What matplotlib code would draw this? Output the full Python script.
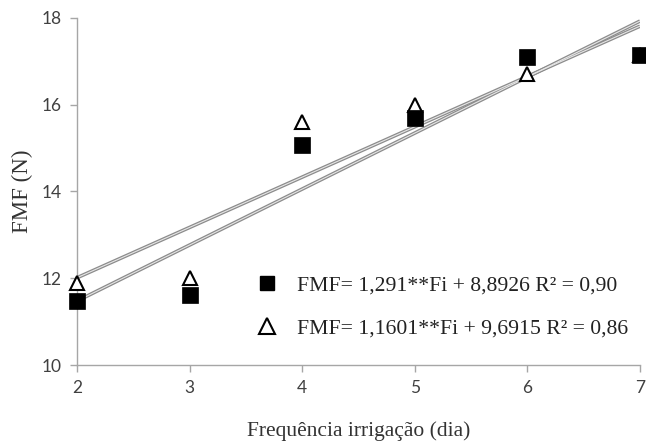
import matplotlib
matplotlib.use("Agg")
import matplotlib.pyplot as plt
import numpy as np
from matplotlib.lines import Line2D

# Data
freq = [2, 3, 4, 5, 6, 7]
fmf_square = [11.48, 11.62, 15.07, 15.70, 17.10, 17.15]
fmf_triangle = [11.90, 12.00, 15.60, 16.00, 16.70, 17.15]
fit_square = (1.291, 8.8926)
fit_triangle = (1.1601, 9.6915)
label_square = "FMF= 1,291**Fi + 8,8926 R² = 0,90"
label_triangle = "FMF= 1,1601**Fi + 9,6915 R² = 0,86"
xticks = [2, 3, 4, 5, 6, 7]
yticks = [10, 12, 14, 16, 18]

fig = plt.figure(figsize=(6.46, 4.44), dpi=100)
ax = fig.add_axes([77/646, 1-365/444, (640-77)/646, (365-18)/444])

xs = np.array([min(freq), max(freq)])
for (a, b) in (fit_square, fit_triangle):
    ys = a * xs + b
    ax.plot(xs, ys, color="#8c8c8c", lw=2.6, solid_capstyle="butt", zorder=2)
    ax.plot(xs, ys, color="#e6e6e6", lw=0.8, solid_capstyle="butt", zorder=2.1)

ax.plot(freq, fmf_triangle, ls="none", marker="^", ms=10.5, mfc="white",
        mec="black", mew=1.5, zorder=3, clip_on=False)
ax.plot(freq, fmf_square, ls="none", marker="s", ms=11.5, mfc="black",
        mec="black", mew=0.5, zorder=4, clip_on=False)

ax.set_xlim(2, 7)
ax.set_ylim(10, 18)
ax.set_xticks(xticks)
ax.set_yticks(yticks)

for s in ("top", "right"):
    ax.spines[s].set_visible(False)
for s in ("left", "bottom"):
    ax.spines[s].set_color("#a6a6a6")
    ax.spines[s].set_linewidth(1.0)
ax.tick_params(direction="out", length=5, width=1.0, color="#a6a6a6",
               labelcolor="#404040", labelsize=12.5, pad=6)
for lab in ax.get_xticklabels() + ax.get_yticklabels():
    lab.set_family("Lato")

ax.set_xlabel("Frequência irrigação (dia)", family="Liberation Serif",
              fontsize=15.5, color="#333333", labelpad=18)
ax.set_ylabel("FMF (N)", family="Liberation Serif", fontsize=16.5,
              color="#333333", labelpad=6)

handles = [
    Line2D([], [], ls="none", marker="s", ms=10, mfc="black", mec="black"),
    Line2D([], [], ls="none", marker="^", ms=11, mfc="white", mec="black", mew=1.5),
]
leg = ax.legend(handles, [label_square, label_triangle], loc="lower left",
                bbox_to_anchor=(0.28, 0.02), frameon=False,
                prop={"family": "Liberation Serif", "size": 15.6},
                handletextpad=0.8, labelspacing=1.05, handlelength=1.2)
for t in leg.get_texts():
    t.set_color("#222222")

fig.savefig("out.png", dpi=100)
